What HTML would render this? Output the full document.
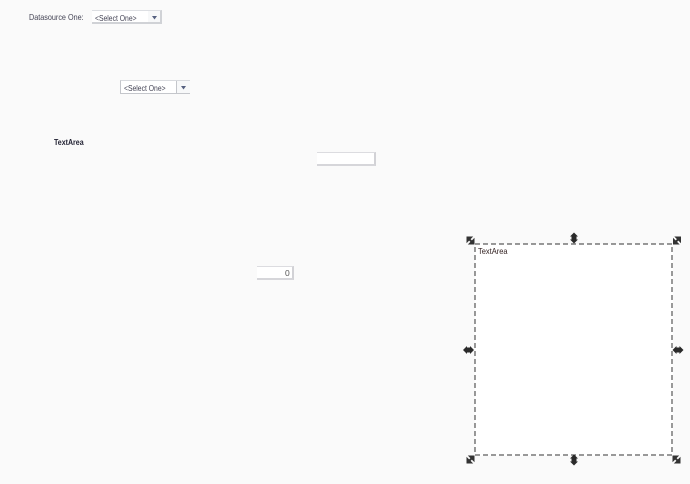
<!DOCTYPE html>
<html>
<head>
<meta charset="utf-8">
<style>
html,body{margin:0;padding:0;background:#fafafa;}
body{width:690px;height:484px;position:relative;overflow:hidden;font-family:"Liberation Sans",sans-serif;color:#333;}
.t{position:absolute;white-space:nowrap;font-size:8.5px;line-height:10px;transform-origin:0 50%;}
.b{position:absolute;background:#fff;box-sizing:border-box;}
svg{position:absolute;left:0;top:0;}
</style>
</head>
<body>
<div class="t" style="left:29px;top:12px;color:#445;transform:scaleX(.85);">Datasource One:</div>
<div class="b" style="left:92px;top:10px;width:70px;height:14px;border:1px solid #dcdee2;border-left:0;border-right:2px solid #d0d2d6;border-bottom:2px solid #d0d2d6;"></div>
<div style="position:absolute;left:148px;top:11px;width:12px;height:11px;background:#f7f8f9;"></div>
<div class="t" style="left:95px;top:13px;color:#445;transform:scaleX(.8);">&lt;Select One&gt;</div>

<div class="b" style="left:120px;top:80px;width:70px;height:14px;border:1px solid #c4c6cb;border-top-color:#d8dade;border-right:0;"></div>
<div style="position:absolute;left:177px;top:81px;width:13px;height:12px;background:#f7f8f9;"></div>
<div style="position:absolute;left:176px;top:81px;width:1px;height:12px;background:#c4c6cb;"></div>
<div class="t" style="left:124px;top:83px;color:#445;transform:scaleX(.8);">&lt;Select One&gt;</div>

<div class="t" style="left:54px;top:138px;color:#223;font-weight:bold;font-size:8px;transform:scaleX(.88);">TextArea</div>

<div class="b" style="left:317px;top:152px;width:59px;height:14px;border:1px solid #dcdce0;border-left:0;border-right:2px solid #d2d2d6;border-bottom:2px solid #d6d6da;"></div>

<div class="b" style="left:257px;top:266px;width:37px;height:14px;border:1px solid #dcdce0;border-left:0;border-right:2px solid #d2d2d6;border-bottom:2px solid #d6d6da;"></div>
<div class="t" style="left:285px;top:268px;color:#555;">0</div>

<div class="b" style="left:475px;top:244px;width:198px;height:212px;"></div>
<div class="t" style="left:478px;top:246px;color:#322;transform:scaleX(.88);">TextArea</div>

<svg width="690" height="484" viewBox="0 0 690 484">
  <polygon points="152,16 157,16 154.5,19.5" fill="#556080"/>
  <polygon points="181,86 186,86 183.5,89.5" fill="#556080"/>

  <rect x="475" y="244" width="197" height="211" fill="none" stroke="#333" stroke-width="1" stroke-dasharray="5 3" shape-rendering="crispEdges"/>

  <!-- corner handles -->
  <g fill="#333" stroke="#333" stroke-width="1">
    <g>
      <polygon points="467,237 472,237 467,242"/>
      <polygon points="474,244 469,244 474,239"/>
      <line x1="468" y1="238" x2="473" y2="243" stroke-width="2"/>
    </g>
    <g>
      <polygon points="680.5,237 675.5,237 680.5,242"/>
      <polygon points="673.5,244 678.5,244 673.5,239"/>
      <line x1="679.5" y1="238" x2="674.5" y2="243" stroke-width="2"/>
    </g>
    <g>
      <polygon points="467,463 472,463 467,458"/>
      <polygon points="474,456 469,456 474,461"/>
      <line x1="468" y1="462" x2="473" y2="457" stroke-width="2"/>
    </g>
    <g>
      <polygon points="680,463 675,463 680,458"/>
      <polygon points="673,456 678,456 673,461"/>
      <line x1="679" y1="462" x2="674" y2="457" stroke-width="2"/>
    </g>
  </g>

  <!-- vertical handles -->
  <g fill="#2a2a2a">
    <polygon points="574,232.5 578,236.5 576.5,236.5 576.5,239.5 578,239.5 574,243.5 570,239.5 571.5,239.5 571.5,236.5 570,236.5"/>
    <polygon points="574,454.5 578,458.5 576.5,458.5 576.5,461.5 578,461.5 574,465.5 570,461.5 571.5,461.5 571.5,458.5 570,458.5"/>
    <!-- horizontal handles -->
    <polygon points="463,350 467,346 467,347.5 470,347.5 470,346 474,350 470,354 470,352.5 467,352.5 467,354"/>
    <polygon points="672.5,350 676.5,346 676.5,347.5 679.5,347.5 679.5,346 683.5,350 679.5,354 679.5,352.5 676.5,352.5 676.5,354"/>
  </g>
</svg>
</body>
</html>
